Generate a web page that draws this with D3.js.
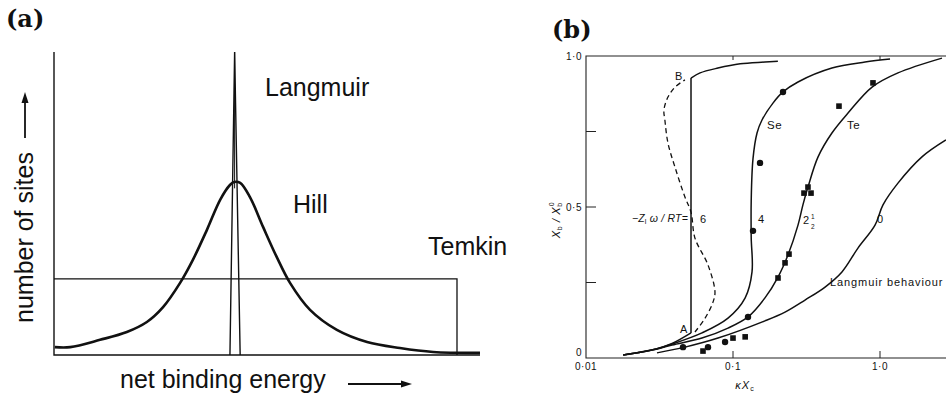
<!DOCTYPE html>
<html>
<head>
<meta charset="utf-8">
<script src="https://cdn.jsdelivr.net/npm/d3@7"></script>
<style>
body { margin: 0; background: #fff; }
svg { display: block; }
text { font-family: "Liberation Sans", Arial, sans-serif; fill: #111; }
.lbl { font-family: "DejaVu Serif", "Liberation Serif", serif; font-weight: bold; }
</style>
</head>
<body>
<svg id="fig" width="946" height="401"></svg>
<script>

/* panel (a): distributions of site energies (energy 0-100, sites 0-1, arbitrary units) */
var hillCurve = [[0.2,0.026],[3.8,0.026],[10.8,0.050],[17.1,0.076],[21.8,0.109],[25.6,0.158],
  [29.6,0.238],[32.6,0.314],[35.9,0.413],[39.0,0.512],[41.3,0.561],[42.3,0.571],[43.7,0.568],
  [46.0,0.521],[49.1,0.422],[52.3,0.323],[55.4,0.238],[60.1,0.149],[66.4,0.083],[73.5,0.043],
  [81.2,0.023],[89.0,0.010],[100,0.007]];
var temkinLevel = 0.251, temkinEnd = 94.6;
var langmuirSpike = [[41.3,0],[42.4,1],[43.7,0]];

/* panel (b): X_b/X_b^0 against kX_c */
var curve6Low = [[0.0179,0.010],[0.0300,0.030],[0.0385,0.048],[0.0518,0.083]];
var curve6High = [[0.0518,0.927],[0.0597,0.944],[0.079,0.960],[0.112,0.974],[0.165,0.980],[0.202,0.983]];
var curve6Unstable = [[0.0551,0.086],[0.0646,0.132],[0.0731,0.185],[0.0754,0.219],[0.0676,0.308],
  [0.0551,0.397],[0.0518,0.483],[0.0471,0.533],[0.0403,0.632],[0.0361,0.712],[0.0344,0.788],
  [0.0339,0.821],[0.0361,0.864],[0.0403,0.897],[0.0471,0.921]];
var curve4 = [[0.0179,0.010],[0.0300,0.030],[0.0385,0.046],[0.0615,0.083],[0.0925,0.132],[0.121,0.199],
  [0.1347,0.285],[0.1330,0.400],[0.1330,0.520],[0.1368,0.660],[0.1457,0.745],[0.1575,0.788],
  [0.187,0.844],[0.2188,0.881],[0.2768,0.914],[0.471,0.960],[0.791,0.980],[1.17,0.990]];
var curve2half = [[0.0179,0.010],[0.0300,0.029],[0.0385,0.043],[0.0615,0.066],[0.0925,0.099],
  [0.1265,0.136],[0.165,0.199],[0.2024,0.268],[0.2366,0.341],[0.2768,0.440],[0.299,0.507],
  [0.3236,0.566],[0.379,0.666],[0.471,0.745],[0.606,0.811],[0.883,0.897],[1.325,0.944],[2.64,0.993]];
var curve0 = [[0.0304,0.017],[0.0471,0.036],[0.0791,0.066],[0.165,0.123],[0.2259,0.152],[0.309,0.192],
  [0.423,0.235],[0.551,0.285],[0.708,0.364],[0.925,0.440],[1.048,0.507],[1.325,0.579],[1.93,0.666],[2.81,0.722]];
var seData = [[0.0457,0.036],[0.0676,0.036],[0.0883,0.053],[0.1265,0.136],[0.1368,0.421],[0.1527,0.646],[0.2188,0.881]];
var teData = [[0.0625,0.023],[0.100,0.066],[0.121,0.070],[0.2024,0.265],[0.2259,0.315],[0.2404,0.344],
  [0.304,0.546],[0.3394,0.546],[0.3236,0.566],[0.526,0.834],[0.896,0.911]];
var xTicksB = [0.01, 0.1, 1];
var xTickLabelsB = ["0·01", "0·1", "1·0"];
var yTicksB = [0, 0.25, 0.5, 0.75, 1];
var yTickLabelsB = ["0", "", "0·5", "", "1·0"];

var svg = d3.select("#fig");

// ---------- panel (a) ----------
var xa = d3.scaleLinear().domain([0, 100]).range([54, 480]);
var ya = d3.scaleLinear().domain([0, 1]).range([355, 52]);
var ga = svg.append("g");

var lineA = d3.line().x(function(d){ return xa(d[0]); }).y(function(d){ return ya(d[1]); });

ga.append("path")   // axes
  .attr("d", "M" + xa(0) + "," + ya(1) + "V" + ya(0) + "H" + xa(100))
  .attr("fill", "none").attr("stroke", "#111").attr("stroke-width", 1.4);

ga.append("path")   // Temkin
  .attr("d", "M" + xa(0) + "," + ya(temkinLevel) + "H" + xa(temkinEnd) + "V" + ya(0))
  .attr("fill", "none").attr("stroke", "#111").attr("stroke-width", 1.3);

ga.append("path")   // Langmuir
  .datum(langmuirSpike)
  .attr("d", lineA)
  .attr("fill", "none").attr("stroke", "#111").attr("stroke-width", 1.4);
ga.append("line")
  .attr("x1", xa(langmuirSpike[1][0])).attr("x2", xa(langmuirSpike[1][0]))
  .attr("y1", ya(1)).attr("y2", ya(0.55))
  .attr("stroke", "#111").attr("stroke-width", 1);

ga.append("path")   // Hill
  .datum(hillCurve)
  .attr("d", lineA.curve(d3.curveCatmullRom))
  .attr("fill", "none").attr("stroke", "#111").attr("stroke-width", 2.6);

ga.append("text").attr("x", 265).attr("y", 96).style("font-size", "25px").text("Langmuir");
ga.append("text").attr("x", 293).attr("y", 213).style("font-size", "25px").text("Hill");
ga.append("text").attr("x", 428).attr("y", 255).style("font-size", "25px").text("Temkin");

ga.append("text").attr("transform", "translate(33,323) rotate(-90)")
  .style("font-size", "25px").text("number of sites");
ga.append("text").attr("x", 120).attr("y", 388).style("font-size", "25px").text("net binding energy");

function arrow(g, x1, y1, x2, y2) {
  var a = Math.atan2(y2 - y1, x2 - x1), L = 11, w = 3.5;
  var bx = x2 - L * Math.cos(a), by = y2 - L * Math.sin(a);
  g.append("line").attr("x1", x1).attr("y1", y1).attr("x2", bx).attr("y2", by)
    .attr("stroke", "#111").attr("stroke-width", 1.8);
  g.append("path")
    .attr("d", "M" + x2 + "," + y2 + "L" + (bx + w * Math.sin(a)) + "," + (by - w * Math.cos(a)) +
               "L" + (bx - w * Math.sin(a)) + "," + (by + w * Math.cos(a)) + "Z")
    .attr("fill", "#111");
}
arrow(ga, 25, 138, 25, 92);
arrow(ga, 348, 384, 412, 384);

svg.append("text").attr("class", "lbl").attr("x", 6).attr("y", 27).style("font-size", "24px").text("(a)");
svg.append("text").attr("class", "lbl").attr("x", 552).attr("y", 38).style("font-size", "24px").text("(b)");

// ---------- panel (b) ----------
var xb = d3.scaleLog().domain([0.01, 1]).range([586, 880]);
var yb = d3.scaleLinear().domain([0, 1]).range([358, 56]);
var gb = svg.append("g");

var lineB = d3.line().x(function(d){ return xb(d[0]); }).y(function(d){ return yb(d[1]); })
  .curve(d3.curveCatmullRom);

gb.append("path")   // frame
  .attr("d", "M" + xb(3) + "," + yb(1) + "H" + xb(0.01) + "V" + yb(0) + "H" + xb(3))
  .attr("fill", "none").attr("stroke", "#222").attr("stroke-width", 1.1);

yTicksB.forEach(function(t, i) {
  if (t > 0 && t < 1)
    gb.append("line").attr("x1", xb(0.01)).attr("x2", xb(0.01) + 10)
      .attr("y1", yb(t)).attr("y2", yb(t)).attr("stroke", "#222").attr("stroke-width", 1);
  if (yTickLabelsB[i])
    gb.append("text").attr("x", xb(0.01) - 4).attr("y", yb(t) + (t === 0 ? -2 : 4))
      .attr("text-anchor", "end").style("font-size", "10px").style("letter-spacing", "0.5px")
      .text(yTickLabelsB[i]);
});
xTicksB.forEach(function(t, i) {
  if (t > 0.01) {
    gb.append("line").attr("x1", xb(t)).attr("x2", xb(t))
      .attr("y1", yb(0)).attr("y2", yb(0) - 7).attr("stroke", "#222").attr("stroke-width", 1);
    gb.append("line").attr("x1", xb(t)).attr("x2", xb(t))
      .attr("y1", yb(1)).attr("y2", yb(1) + 4).attr("stroke", "#222").attr("stroke-width", 1);
  }
  gb.append("text").attr("x", xb(t)).attr("y", 370).attr("text-anchor", "middle")
    .style("font-size", "10px").style("letter-spacing", "0.5px").text(xTickLabelsB[i]);
});

[curve6Low, curve6High, curve4, curve2half, curve0].forEach(function(c) {
  gb.append("path").datum(c).attr("d", lineB)
    .attr("fill", "none").attr("stroke", "#111").attr("stroke-width", 1.5);
});
gb.append("line")   // jump A -> B
  .attr("x1", xb(curve6Low[curve6Low.length - 1][0])).attr("y1", yb(curve6Low[curve6Low.length - 1][1]))
  .attr("x2", xb(curve6High[0][0])).attr("y2", yb(curve6High[0][1]))
  .attr("stroke", "#111").attr("stroke-width", 1.5);
gb.append("path").datum(curve6Unstable).attr("d", lineB)
  .attr("fill", "none").attr("stroke", "#111").attr("stroke-width", 1.3)
  .attr("stroke-dasharray", "5,3.5");

gb.selectAll("circle.se").data(seData).enter().append("circle")
  .attr("cx", function(d){ return xb(d[0]); }).attr("cy", function(d){ return yb(d[1]); })
  .attr("r", 3.2).attr("fill", "#111");
gb.selectAll("rect.te").data(teData).enter().append("rect")
  .attr("x", function(d){ return xb(d[0]) - 2.8; }).attr("y", function(d){ return yb(d[1]) - 2.8; })
  .attr("width", 5.6).attr("height", 5.6).attr("fill", "#111");

function small(x, y, s, size) {
  return gb.append("text").attr("x", x).attr("y", y).style("font-size", (size || 11) + "px").text(s);
}
small(675, 80, "B");
small(680, 333, "A");
small(767, 129, "Se", 11.5).style("letter-spacing", "0.5px");
small(847, 129, "Te", 11.5).style("letter-spacing", "0.5px");
small(700, 223, "6");
small(758, 223, "4");
small(877, 223, "0");
small(803, 224, "2");
small(811, 219, "1", 6.5);
small(811, 229, "2", 6.5);
small(830, 286, "Langmuir behaviour", 11).style("letter-spacing", "0.9px");

var zt = gb.append("text").attr("x", 688).attr("y", 222).attr("text-anchor", "end")
  .style("font-size", "10.5px").style("letter-spacing", "0.2px");
zt.append("tspan").text("−");
zt.append("tspan").style("font-style", "italic").text("Z");
zt.append("tspan").attr("dy", 2).style("font-size", "7px").text("l");
zt.append("tspan").attr("dy", -2).style("font-style", "italic").text(" ω / RT=");

var xl = gb.append("text").attr("x", 745).attr("y", 389).attr("text-anchor", "middle")
  .style("font-size", "11px").style("font-style", "italic").style("letter-spacing", "1px");
xl.append("tspan").text("κX");
xl.append("tspan").attr("dy", 2).style("font-size", "7px").style("font-style", "normal").text("c");

var yl = gb.append("text").attr("transform", "translate(560,220) rotate(-90)").attr("text-anchor", "middle")
  .style("font-size", "11px").style("font-style", "italic").style("letter-spacing", "0.6px");
yl.append("tspan").text("X");
yl.append("tspan").attr("dy", 2).style("font-size", "7px").style("font-style", "normal").text("b");
yl.append("tspan").attr("dy", -2).text(" / X");
yl.append("tspan").attr("dy", 2).style("font-size", "7px").style("font-style", "normal").text("b");
yl.append("tspan").attr("dx", -4).attr("dy", -8).style("font-size", "7px").style("font-style", "normal").text("0");

</script>
</body>
</html>
